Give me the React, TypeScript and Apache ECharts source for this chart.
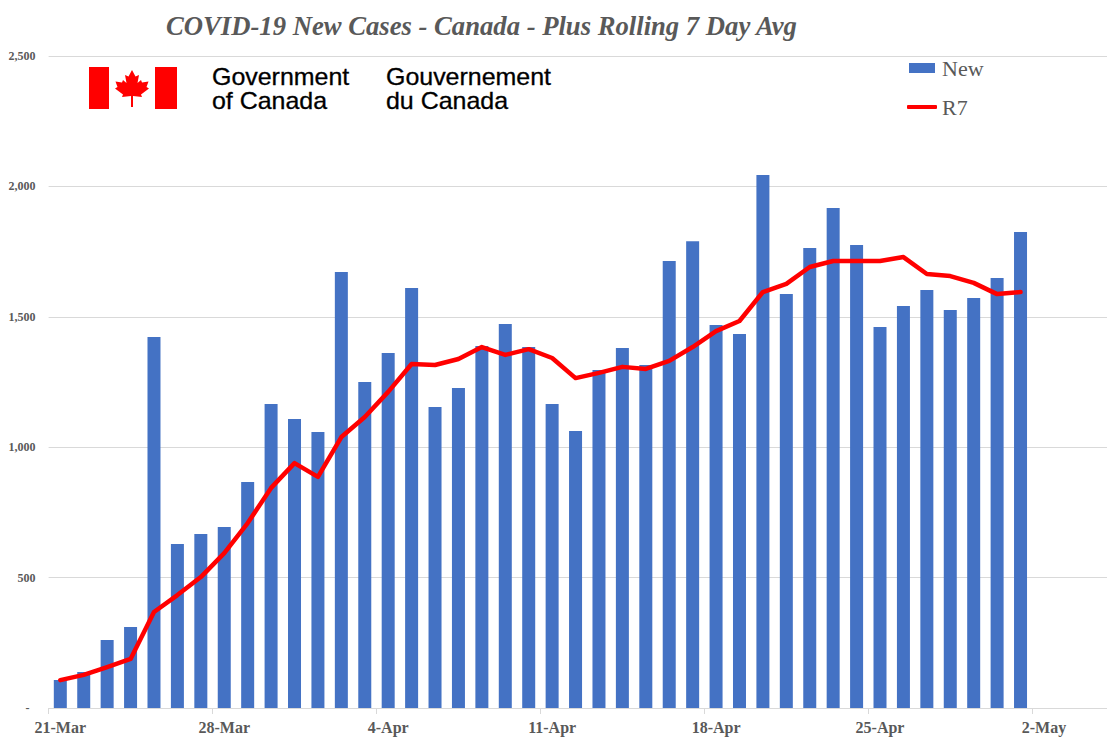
import React, { useEffect, useRef } from "react";
import * as echarts from "echarts";

const dates = [
  "21-Mar","22-Mar","23-Mar","24-Mar","25-Mar","26-Mar","27-Mar","28-Mar","29-Mar","30-Mar","31-Mar",
  "1-Apr","2-Apr","3-Apr","4-Apr","5-Apr","6-Apr","7-Apr","8-Apr","9-Apr","10-Apr","11-Apr","12-Apr",
  "13-Apr","14-Apr","15-Apr","16-Apr","17-Apr","18-Apr","19-Apr","20-Apr","21-Apr","22-Apr","23-Apr",
  "24-Apr","25-Apr","26-Apr","27-Apr","28-Apr","29-Apr","30-Apr","1-May","2-May","3-May","4-May","5-May",
];
const newCases = [
  107,138,261,311,1423,629,667,694,867,1166,1108,1058,1672,1250,1361,1610,1154,1227,1388,1472,1384,
  1166,1062,1296,1380,1315,1714,1790,1469,1434,2044,1587,1764,1917,1775,1461,1541,1603,1526,1572,1649,1825,
];
const rolling7 = [
  107,127,157,188,368,433,502,594,709,844,939,886,1039,1116,1212,1319,1315,1338,1384,1354,1376,
  1342,1265,1285,1308,1300,1331,1384,1445,1484,1595,1626,1691,1714,1714,1714,1729,1664,1656,1630,1587,1595,
];
const yMax = 2500;
const yStep = 500;
const zeroLabel = "-";
const titleText = "COVID-19 New Cases - Canada - Plus Rolling 7 Day Avg";
const logoEn = ["Government", "of Canada"];
const logoFr = ["Gouvernement", "du Canada"];

const SERIF = '"Liberation Serif", "Times New Roman", serif';
const SANS = '"Liberation Sans", Arial, sans-serif';
const GREY = "#595959";
const GRID = "#D9D9D9";
const LEAF =
  "M17 0 L20.5 6.5 L24 5 L22.5 13 L26 10 L27 12.5 L33.5 11.5 L31.5 17 L34 18.5 L26 24.5 L27 27 L18 26 L18 37 L16 37 L16 26 L7 27 L8 24.5 L0 18.5 L2.5 17 L0.5 11.5 L7 12.5 L8 10 L11.5 13 L10 5 L13.5 6.5 Z";

const logoText = (text: string, x: number, y: number) => ({
  type: "text", x, y, z: 5,
  style: { text, fontFamily: SANS, fontSize: 24, fill: "#000", stroke: "#000", lineWidth: 0.3, verticalAlign: "middle" },
  scaleX: 1.04,
});

export default function App() {
  const ref = useRef<HTMLDivElement>(null);
  useEffect(() => {
    echarts.graphic.registerShape("mapleLeaf", echarts.graphic.extendPath(LEAF as any, {}) as any);
    const chart = echarts.init(ref.current!, undefined, { renderer: "svg" });
    chart.setOption({
      animation: false,
      backgroundColor: "#fff",
      title: {
        text: titleText,
        left: 161,
        top: 7,
        textStyle: { fontFamily: SERIF, fontSize: 26.67, fontWeight: "bold", fontStyle: "italic", color: GREY },
      },
      grid: { left: 48.6, top: 56, width: 23.42 * dates.length, height: 652, containLabel: false, outerBoundsMode: "none" },
      legend: [
        {
          data: [{ name: "New", icon: "rect" }],
          left: 909, top: 57, itemWidth: 26, itemHeight: 10, padding: 0,
          selectedMode: false,
          textStyle: { fontFamily: SERIF, fontSize: 22, color: GREY, padding: [0, 0, 0, 2] },
        },
        {
          data: [{ name: "R7", icon: "roundRect" }],
          left: 907, top: 96, itemWidth: 30, itemHeight: 4, padding: 0,
          selectedMode: false,
          textStyle: { fontFamily: SERIF, fontSize: 22, color: GREY, padding: [0, 0, 0, 0] },
        },
      ],
      xAxis: {
        type: "category",
        data: dates,
        boundaryGap: true,
        axisLine: { lineStyle: { color: GRID, width: 1 } },
        axisTick: { show: true, interval: 6, length: 6, lineStyle: { color: GRID } },
        axisLabel: {
          interval: 6, margin: 11, hideOverlap: false,
          fontFamily: SERIF, fontSize: 16, fontWeight: "bold", color: GREY,
        },
      },
      yAxis: {
        type: "value",
        min: 0,
        max: yMax,
        interval: yStep,
        axisLine: { show: false },
        axisTick: { show: false },
        splitLine: { lineStyle: { color: GRID, width: 1 } },
        axisLabel: {
          margin: 13,
          fontFamily: SERIF, fontSize: 12, fontWeight: "bold", color: GREY,
          formatter: (v: number) => (v === 0 ? zeroLabel + "  " : v.toLocaleString("en-US")),
        },
      },
      series: [
        { name: "New", type: "bar", data: newCases, barWidth: 13, itemStyle: { color: "#4472C4" } },
        {
          name: "R7", type: "line", data: rolling7, symbol: "none", smooth: false,
          lineStyle: { color: "#FF0000", width: 4.5, cap: "round", join: "round" },
          itemStyle: { color: "#FF0000" },
        },
      ],
      graphic: [
        { type: "rect", shape: { x: 89, y: 67, width: 20, height: 42 }, style: { fill: "#FF0000" }, z: 5 },
        { type: "rect", shape: { x: 155, y: 67, width: 22, height: 42 }, style: { fill: "#FF0000" }, z: 5 },
        { type: "mapleLeaf", x: 115, y: 70, style: { fill: "#FF0000" }, z: 5 },
        logoText(logoEn[0], 212, 77),
        logoText(logoEn[1], 212, 101),
        logoText(logoFr[0], 386, 77),
        logoText(logoFr[1], 386, 101),
      ],
    });
    return () => chart.dispose();
  }, []);
  return (
    <div
      ref={ref}
      style={{ position: "absolute", left: 0, top: 0, width: 1107, height: 753, overflow: "hidden" }}
    />
  );
}
